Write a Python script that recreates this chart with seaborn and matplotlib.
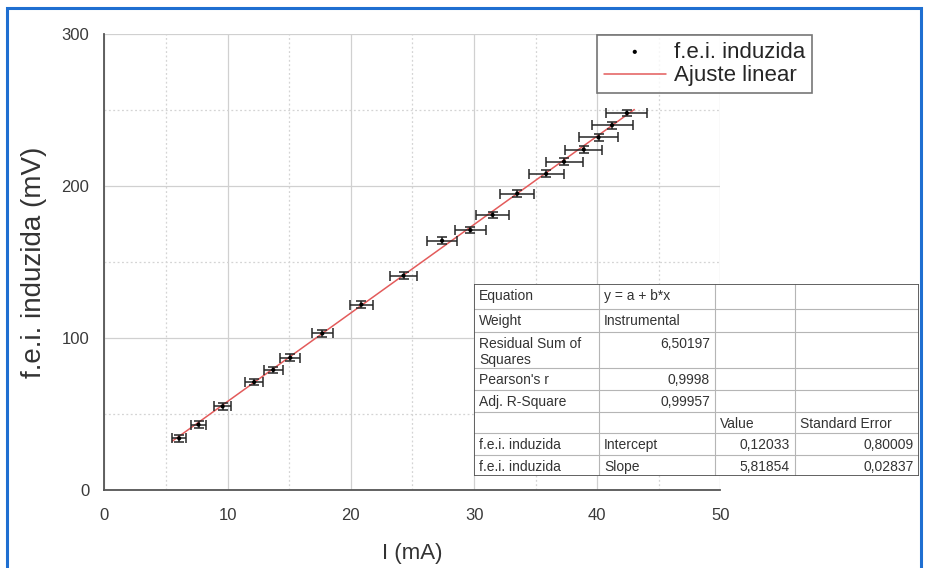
import matplotlib
matplotlib.use("Agg")
import matplotlib.pyplot as plt
from matplotlib.patches import Rectangle
import pandas as pd
import seaborn as sns

# Measured induced EMF versus coil current
current_mA = [6.06, 7.63, 9.59, 12.15, 13.70, 15.08, 17.68, 20.85, 24.27, 27.40,
              29.70, 31.50, 33.50, 35.85, 37.30, 38.90, 40.10, 41.20, 42.40]
emf_mV = [34, 43, 55, 71, 79, 87, 103, 122, 141, 164,
          171, 181, 195, 208, 216, 224, 232, 240, 248]
current_err = [0.57, 0.63, 0.67, 0.73, 0.75, 0.80, 0.85, 0.92, 1.11, 1.22,
               1.26, 1.32, 1.38, 1.43, 1.50, 1.52, 1.56, 1.67, 1.67]
emf_err = [2.2, 2.2, 2.2, 2.2, 2.2, 2.2, 2.2, 2.2, 2.2, 2.2,
           2.2, 2.2, 2.2, 2.2, 2.2, 2.2, 2.2, 2.2, 2.2]

# Linear fit y = a + b*x
fit_intercept = 0.12033
fit_slope = 5.81854
fit_range = [5.5, 43.0]

# Fit report table
table_rows = [
    ["Equation", "y = a + b*x", "", ""],
    ["Weight", "Instrumental", "", ""],
    ["Residual Sum of\nSquares", "6,50197", "", ""],
    ["Pearson's r", "0,9998", "", ""],
    ["Adj. R-Square", "0,99957", "", ""],
    ["", "", "Value", "Standard Error"],
    ["f.e.i. induzida", "Intercept", "0,12033", "0,80009"],
    ["f.e.i. induzida", "Slope", "5,81854", "0,02837"],
]

sns.set_theme(style="white")
plt.rcParams["font.family"] = ["Liberation Sans", "DejaVu Sans"]

W, H = 928, 568
fig = plt.figure(figsize=(W / 100, H / 100), dpi=100)
fig.patch.set_facecolor("white")

ax = fig.add_axes([104.5 / W, 1 - 490 / H, (720.5 - 104.5) / W, (490 - 34) / H])
ax.set_facecolor("white")

df = pd.DataFrame({"I": current_mA, "E": emf_mV})
fit_df = pd.DataFrame({"I": fit_range,
                       "E": [fit_intercept + fit_slope * v for v in fit_range]})

sns.lineplot(data=fit_df, x="I", y="E", ax=ax, color="#e35b5b", lw=1.1,
             label="Ajuste linear", zorder=3)
ax.errorbar(current_mA, emf_mV, xerr=current_err, yerr=emf_err, fmt="none",
            ecolor="#262626", elinewidth=1.1, capsize=3.5, capthick=1.1, zorder=4)
sns.scatterplot(data=df, x="I", y="E", ax=ax, color="black", s=9,
                marker="o", edgecolor="none", label="f.e.i. induzida", zorder=5)

ax.set_xlim(0, 50)
ax.set_ylim(0, 300)
ax.set_xticks([0, 10, 20, 30, 40, 50])
ax.set_yticks([0, 100, 200, 300])
ax.set_xticks([5, 15, 25, 35, 45], minor=True)
ax.set_yticks([50, 150, 250], minor=True)

ax.grid(True, which="major", color="#d0d0d0", lw=0.9, ls="-", zorder=0)
ax.grid(True, which="minor", color="#d4d4d4", lw=0.9, ls=(0, (1.5, 2)), zorder=0)
ax.set_axisbelow(True)

for side in ("top", "right"):
    ax.spines[side].set_visible(False)
for side in ("left", "bottom"):
    ax.spines[side].set_color("#555555")
    ax.spines[side].set_linewidth(1.3)

ax.tick_params(axis="both", which="major", direction="out", length=5, width=1.1,
               color="#555555", labelsize=12, labelcolor="#3a3a3a")
ax.tick_params(axis="x", which="major", pad=8)
ax.tick_params(axis="y", which="major", pad=6)
ax.tick_params(axis="both", which="minor", direction="in", length=3, width=1.0,
               color="#555555")

ax.set_xlabel("I (mA)", fontsize=16, color="#333333", labelpad=14)
ax.set_ylabel("f.e.i. induzida (mV)", fontsize=20, color="#333333", labelpad=10)

# Legend outside the plotting area, top right
handles, labels = ax.get_legend_handles_labels()
order = [labels.index("f.e.i. induzida"), labels.index("Ajuste linear")]
leg = fig.legend([handles[i] for i in order], [labels[i] for i in order],
                 loc="upper left", bbox_to_anchor=(597 / W, 1 - 35 / H),
                 fontsize=16, frameon=True, fancybox=False, borderpad=0.3,
                 handlelength=2.8, handletextpad=0.35, labelspacing=0.12,
                 markerscale=1.0, borderaxespad=0)
leg.get_frame().set_edgecolor("#555555")
leg.get_frame().set_linewidth(1.2)
if ax.get_legend() is not None:
    ax.get_legend().remove()

# Fit report table drawn in its own pixel-space axes
tx0, ty0, tx1, ty1 = 474, 284, 919, 476
tab = fig.add_axes([tx0 / W, 1 - ty1 / H, (tx1 - tx0) / W, (ty1 - ty0) / H])
tab.set_xlim(tx0, tx1)
tab.set_ylim(ty1, ty0)
tab.axis("off")
tab.add_patch(Rectangle((tx0, ty0), tx1 - tx0, ty1 - ty0, facecolor="white",
                        edgecolor="none", zorder=0))

col_edges = [474, 599, 715, 795, 919]
row_edges = [284, 309, 332, 368, 390, 412, 433, 455, 476]
for y in row_edges[1:-1]:
    tab.plot([tx0, tx1], [y, y], color="#b5b5b5", lw=0.8, zorder=1)
for x in col_edges[1:-1]:
    tab.plot([x, x], [ty0, ty1], color="#b5b5b5", lw=0.8, zorder=1)
tab.add_patch(Rectangle((tx0, ty0), tx1 - tx0, ty1 - ty0, facecolor="none",
                        edgecolor="#555555", lw=1.3, zorder=2))

numeric_right = {(2, 1), (3, 1), (4, 1), (6, 2), (6, 3), (7, 2), (7, 3)}
for r, row in enumerate(table_rows):
    top = row_edges[r]
    for c, txt in enumerate(row):
        if not txt:
            continue
        if (r, c) in numeric_right:
            tab.text(col_edges[c + 1] - 5, top + 5, txt, ha="right", va="top",
                     fontsize=10, color="#333333", linespacing=1.15)
        else:
            tab.text(col_edges[c] + 5, top + 5, txt, ha="left", va="top",
                     fontsize=10, color="#333333", linespacing=1.15)

# Blue frame around the figure
fig.patches.append(Rectangle((7 / W, -0.02), (921 - 7) / W, 1 - 8 / H + 0.02,
                             transform=fig.transFigure, facecolor="none",
                             edgecolor="#1f6fd1", lw=2.2, zorder=10))

fig.savefig("out.png", dpi=100, facecolor="white")
